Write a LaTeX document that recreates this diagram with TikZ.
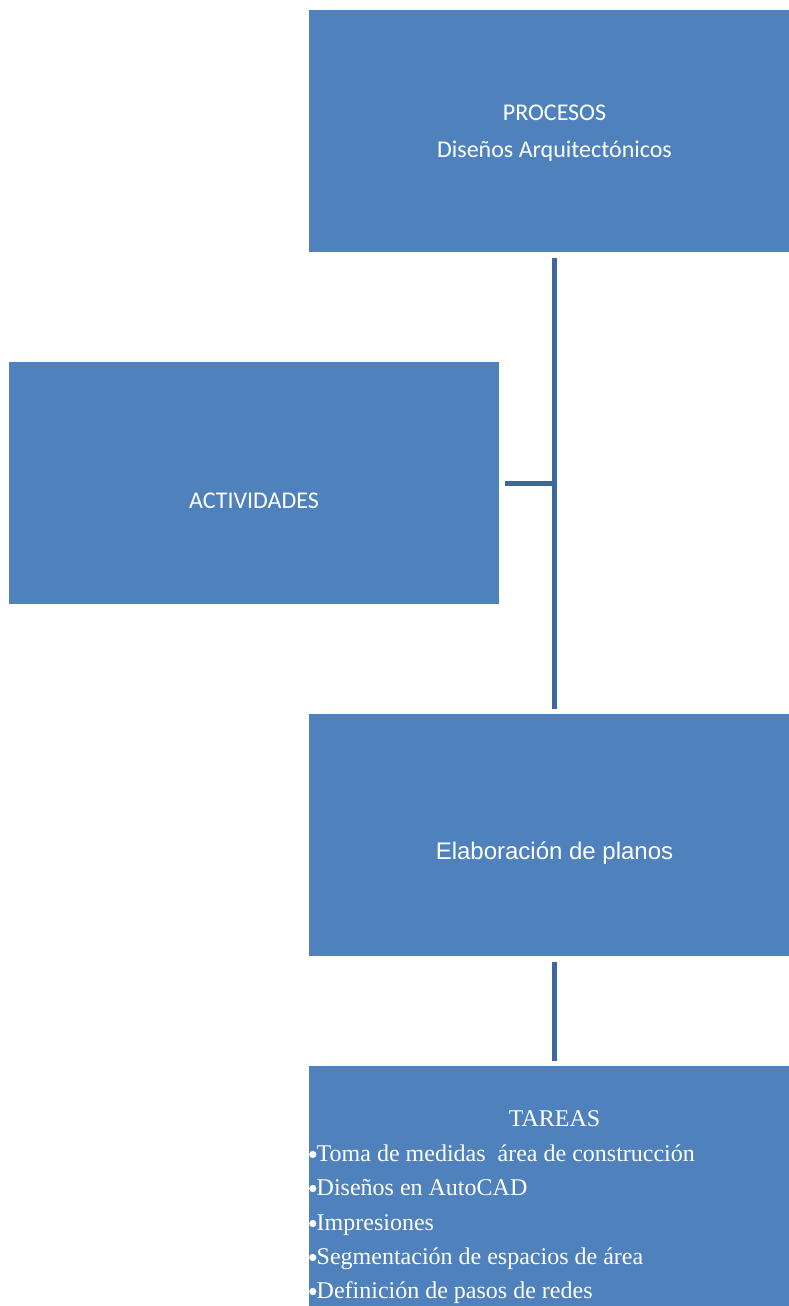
\documentclass[tikz,border=0pt]{standalone}
\usepackage{fontspec}
\setmainfont{Liberation Serif}
\newfontfamily\calib{Carlito}
\newfontfamily\arialf{Liberation Sans}
\definecolor{boxblue}{HTML}{4F81BD}
\definecolor{linkblue}{HTML}{3E679C}
\newcommand{\mybul}{\makebox[7.5pt][l]{\tikz[baseline=0pt,x=1pt,y=1pt]\fill[white] (3.6,6.5) circle[radius=3.6pt];}}
\begin{document}
\begin{tikzpicture}[x=1pt,y=-1pt]
\useasboundingbox (0,0) rectangle (789,1306);
\clip (0,0) rectangle (789,1306);
\tikzset{
  bluebox/.style={fill=boxblue, draw=none, inner sep=0pt, anchor=north west,
    minimum width=491pt, minimum height=242pt},
  conn/.style={draw=linkblue, line width=5pt},
  lbl/.style={text=white, inner sep=0pt, anchor=base},
  tlbl/.style={text=white, inner sep=0pt, anchor=base west, font=\fontsize{24}{28}\selectfont}
}
\node[bluebox] (p) at (309,10) {};
\node[bluebox, minimum width=490pt] (a) at (9,362) {};
\node[bluebox] (e) at (309,714) {};
\node[bluebox, minimum height=260pt] (t) at (309,1066) {};

\node[lbl, font=\calib\fontsize{24}{28}\selectfont] (p1) at (554.5,120) {PROCESOS};
\node[lbl, font=\calib\fontsize{24}{28}\selectfont] (p2) at (554.5,157) {Diseños Arquitectónicos};
\node[lbl, font=\calib\fontsize{24}{28}\selectfont] (a1) at (254,508) {ACTIVIDADES};
\node[lbl, font=\arialf\fontsize{24}{28}\selectfont] (e1) at (554.5,859) {Elaboración de planos};
\node[lbl, font=\fontsize{24}{28}\selectfont] (t0) at (554.5,1126) {TAREAS};
\node[tlbl] (t1) at (309,1161) {\mybul Toma de medidas\ \ área de construcción};
\node[tlbl] (t2) at (309,1195) {\mybul Diseños en AutoCAD};
\node[tlbl] (t3) at (309,1230) {\mybul Impresiones};
\node[tlbl] (t4) at (309,1264) {\mybul Segmentación de espacios de área};
\node[tlbl] (t5) at (309,1298) {\mybul Definición de pasos de redes};

\coordinate (jx) at (554.5,0);
\draw[conn, shorten <=6pt, shorten >=5pt] (p.south -| jx) -- (e.north -| jx);
\draw[conn, shorten <=6pt] (a.east) -- (a.east -| jx);
\draw[conn, shorten <=6pt, shorten >=5pt] (e.south -| jx) -- (t.north -| jx);
\end{tikzpicture}
\end{document}
